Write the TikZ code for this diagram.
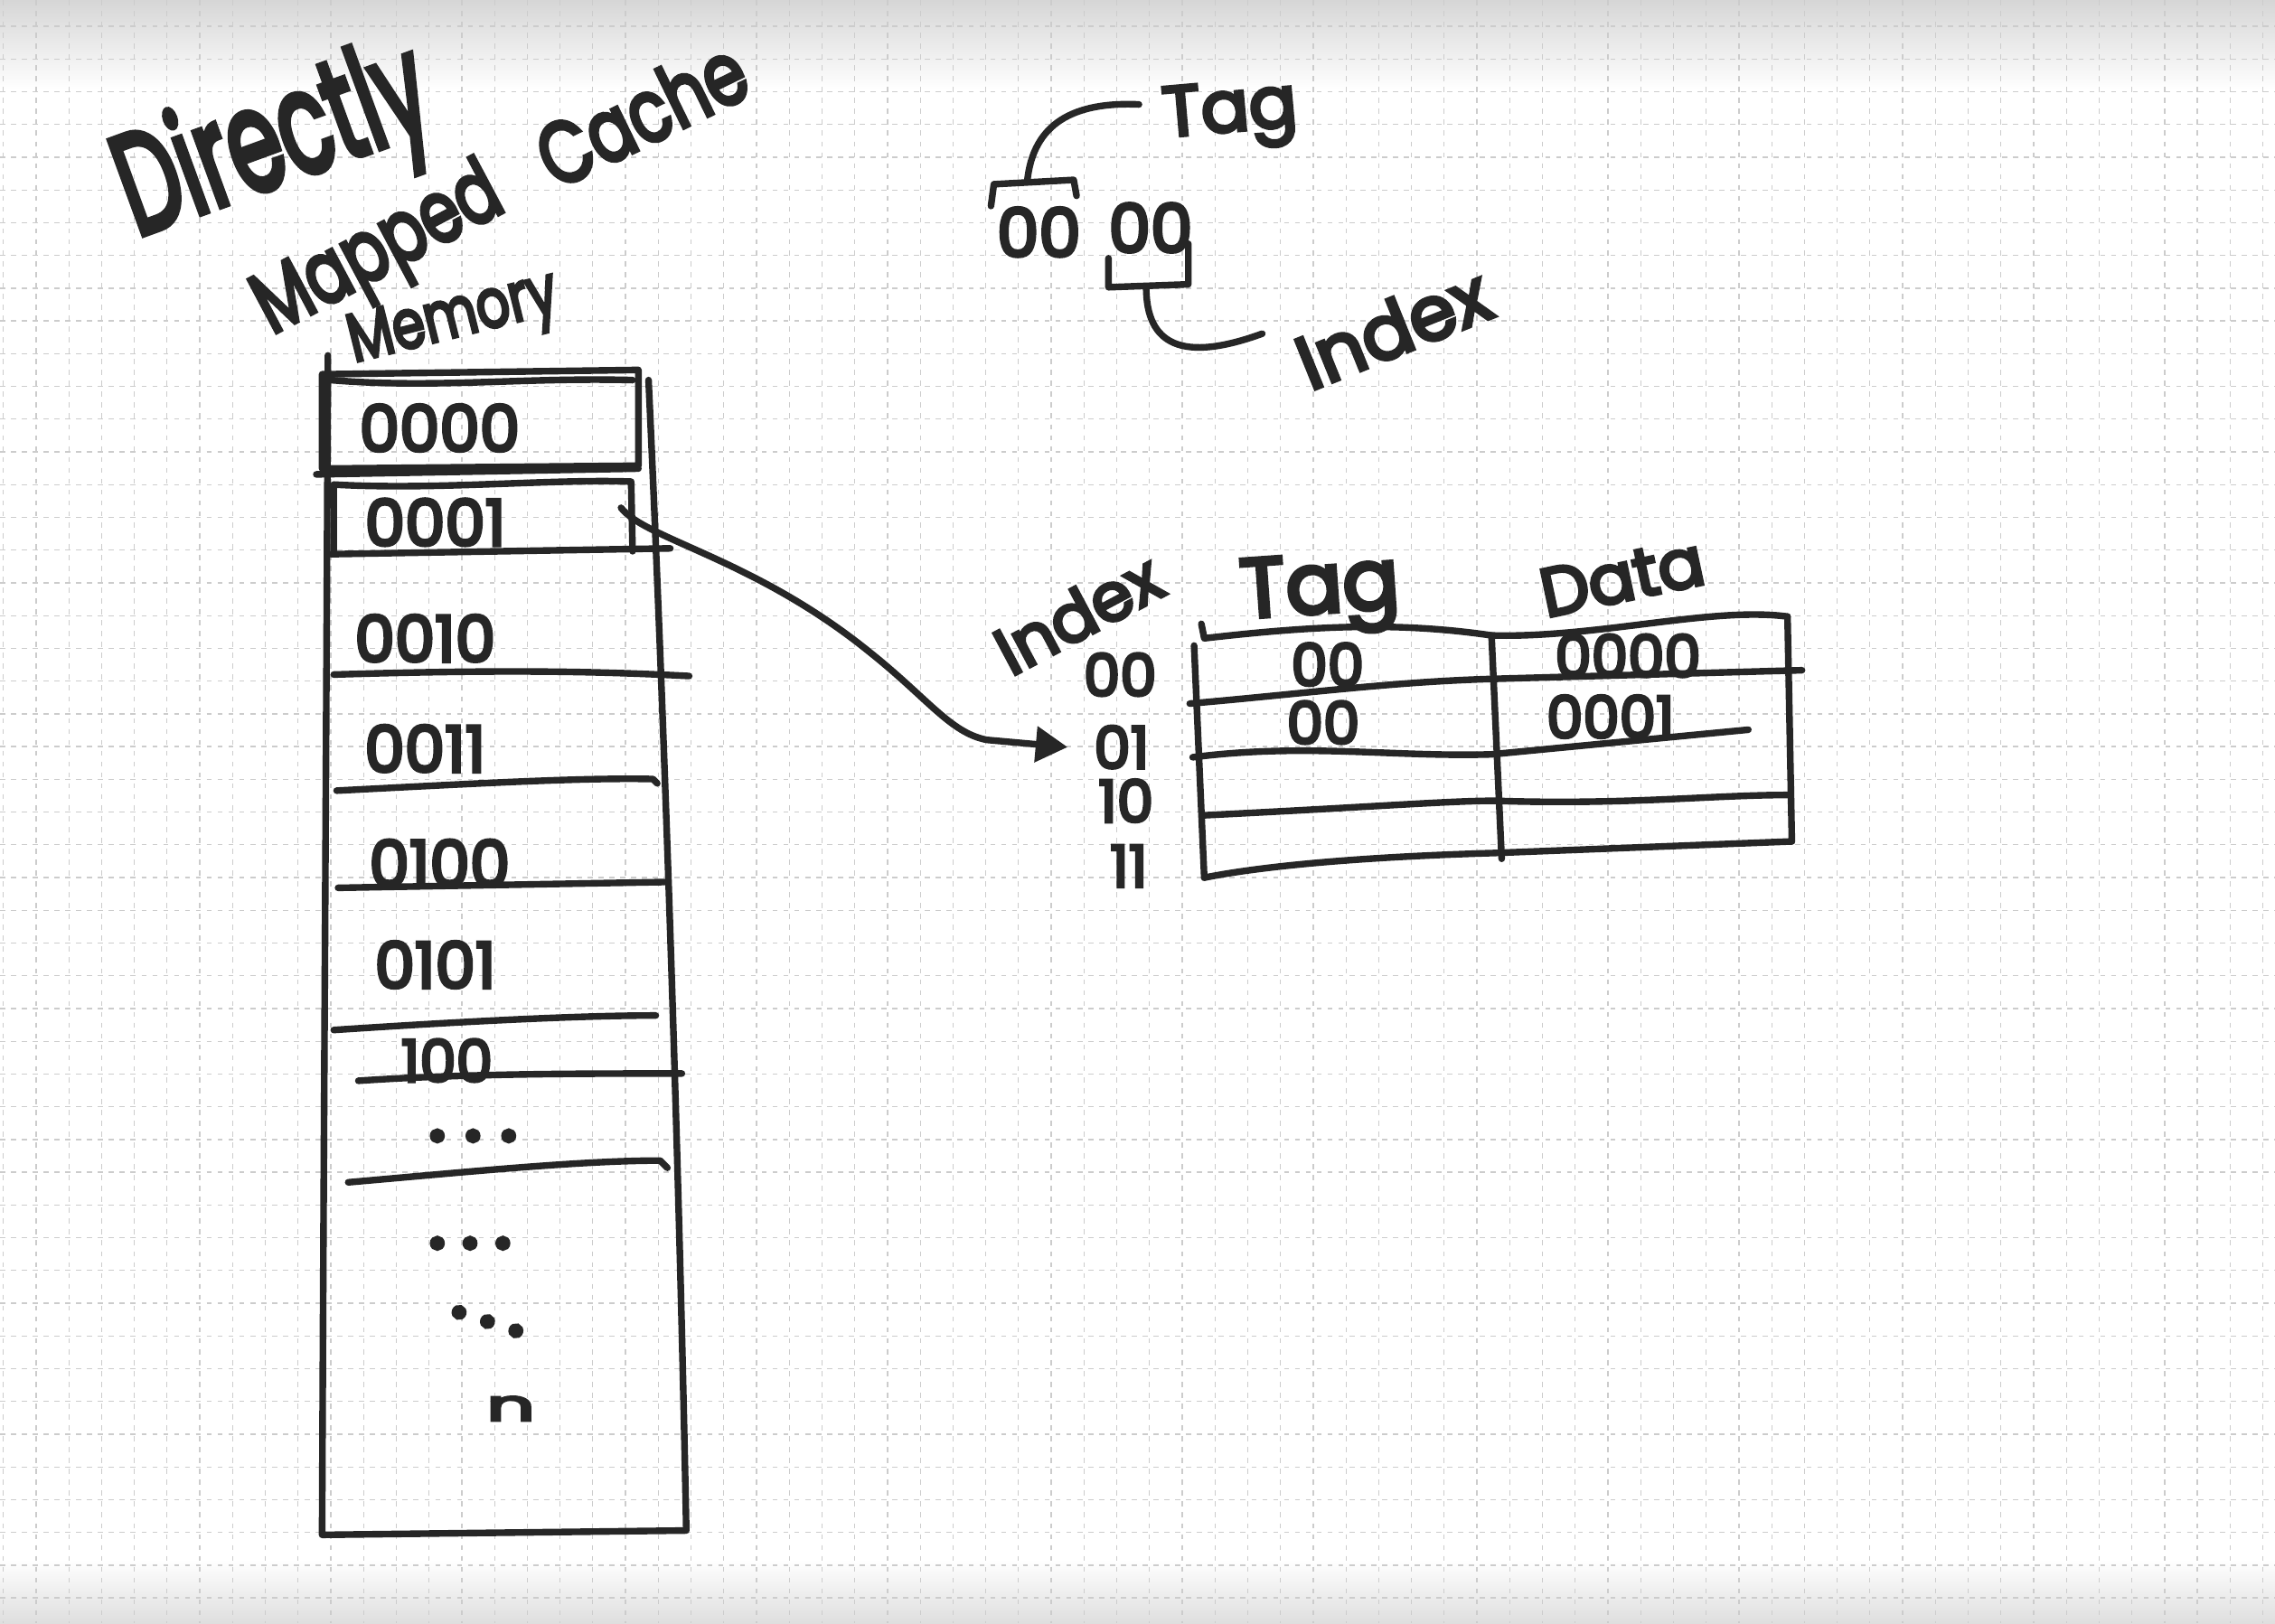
\documentclass[tikz,border=0pt]{standalone}
\usepackage{fontspec}
\setmainfont{Poppins}[FakeBold=5]
\usetikzlibrary{arrows.meta}
\definecolor{ink}{HTML}{262626}
\definecolor{gridc}{HTML}{CCCCCC}
\definecolor{bandc}{HTML}{D6D6D6}
\begin{document}
\begin{tikzpicture}[x=1pt,y=-1pt,
  pen/.style={draw=ink, line width=4.6pt, line cap=round, line join=round},
  gridline/.style={draw=gridc, line width=0.8pt, dash pattern=on 3.5pt off 4pt},
  hand/.style={text=ink, inner sep=0pt, font=\fontsize{#1}{#1}\selectfont},
  arrowpen/.style={pen, -{Triangle[length=22pt,width=24pt]}}
]
\useasboundingbox (0,0) rectangle (1568,1119);
% background
\fill[white] (0,0) rectangle (1568,1119);
\fill[top color=bandc, bottom color=white] (0,0) rectangle (1568,62);
\fill[top color=white, bottom color=bandc!80] (0,1075) rectangle (1568,1119);
\foreach \i in {0,...,70} \draw[gridline] (2.3+22.57*\i,0) -- (2.3+22.57*\i,1119);
\foreach \j in {-1,...,50} \draw[gridline] (0,18.1+22.57*\j) -- (1568,18.1+22.57*\j);

% title
\node[hand=70, rotate=20, xscale=0.85, yscale=1.4] (tDirectly) at (190,102) {Directly};
\node[hand=44, rotate=28, yscale=1.35] (tMapped) at (262,175) {Mapped};
\node[hand=46, rotate=26, yscale=1.3] (tCache) at (442,78) {Cache};
\node[hand=36, rotate=14, yscale=1.3] (tMemory) at (313,222) {Memory};

% address split
\node[hand=46] (adrTag) at (716,160) {00};
\node[hand=46] (adrIdx) at (793,157) {00};
\draw[pen] (683,142) -- (685,127) -- (740,124) -- (742,135);
\draw[pen] (708,125) .. controls (712,85) and (740,70) .. (785,72);
\node[hand=49, rotate=5] (lblTag) at (848,80) {Tag};
\draw[pen] (764,178) -- (764,198) -- (819,196) -- (819,168);
\draw[pen] (790,198) .. controls (790,238) and (815,250) .. (870,230);
\node[hand=52, rotate=22] (lblIndex) at (960,226) {Index};

% memory column
\draw[pen] (226,245) .. controls (225,500) and (223,800) .. (222,1058)
  -- (473,1055) .. controls (468,800) and (458,500) .. (447,262);
\draw[pen] (222,258) -- (440,255) -- (440,321) -- (222,323) -- cycle;
\draw[pen] (228,262) .. controls (300,268) and (360,260) .. (436,262);
\draw[pen] (218,327) -- (440,323);
\draw[pen] (230,382) -- (230,334) .. controls (300,338) and (380,330) .. (435,332) -- (436,380);
\draw[pen] (228,382) -- (462,378);
\draw[pen] (230,465) .. controls (330,462) and (400,462) .. (475,466);
\draw[pen] (232,545) .. controls (330,540) and (400,536) .. (450,537) -- (453,540);
\draw[pen] (233,612) -- (458,608);
\draw[pen] (230,710) .. controls (320,704) and (400,700) .. (452,700);
\draw[pen] (247,745) .. controls (320,740) and (400,740) .. (470,740);
\draw[pen] (240,815) .. controls (320,808) and (400,800) .. (455,800) -- (460,805);

\node[hand=44] (m0) at (303,295) {0000};
\node[hand=44] (m1) at (300,360) {0001};
\node[hand=44] (m2) at (293,440) {0010};
\node[hand=44] (m3) at (293,516) {0011};
\node[hand=44] (m4) at (303,595) {0100};
\node[hand=44] (m5) at (300,665) {0101};
\node[hand=40] (m6) at (308,731) {100};
\node[hand=60] (d1) at (326,783) {.\hspace{12pt}.\hspace{12pt}.};
\node[hand=60] (d2) at (324,857) {.\hspace{10pt}.\hspace{10pt}.};
\node[hand=60, rotate=-18] (d3) at (336,911) {.\hspace{8pt}.\hspace{8pt}.};
\node[hand=40, xscale=1.3, yscale=0.75] (mn) at (352,971) {n};

% cache table
\draw[pen] (828,430) -- (830,440) .. controls (900,432) and (960,428) .. (1028,438)
  .. controls (1100,440) and (1180,418) .. (1232,425);
\draw[pen] (823,445) -- (830,605);
\draw[pen] (1232,425) -- (1235,580);
\draw[pen] (1028,438) -- (1035,592);
\draw[pen] (820,485) .. controls (900,478) and (960,470) .. (1028,468) -- (1242,462);
\draw[pen] (822,522) .. controls (900,512) and (960,522) .. (1028,520) -- (1205,503);
\draw[pen] (830,562) .. controls (950,556) and (1000,552) .. (1030,552) .. controls (1120,555) and (1180,548) .. (1232,548);
\draw[pen] (830,605) .. controls (880,595) and (960,590) .. (1030,588) -- (1235,580);

\node[hand=46, rotate=28] (hIndex) at (743,423) {Index};
\node[hand=58, rotate=4] (hTag) at (910,410) {Tag};
\node[hand=47, rotate=12] (hData) at (1118,398) {Data};
\node[hand=40] (i0) at (772,465) {00};
\node[hand=40] (i1) at (773,515) {01};
\node[hand=40] (i2) at (776,552) {10};
\node[hand=40] (i3) at (778,597) {11};
\node[hand=40] (c0t) at (915,458) {00};
\node[hand=40] (c0d) at (1122,452) {0000};
\node[hand=40] (c1t) at (912,498) {00};
\node[hand=40] (c1d) at (1110,494) {0001};

% mapping arrow
\coordinate (arrS) at (428,350);
\coordinate (arrE) at ([xshift=-18pt]i1.west);
\draw[arrowpen] (arrS) .. controls (445,372) and (520,385) .. (600,450)
  .. controls (640,482) and (655,505) .. (680,510) -- (arrE);
\end{tikzpicture}
\end{document}
